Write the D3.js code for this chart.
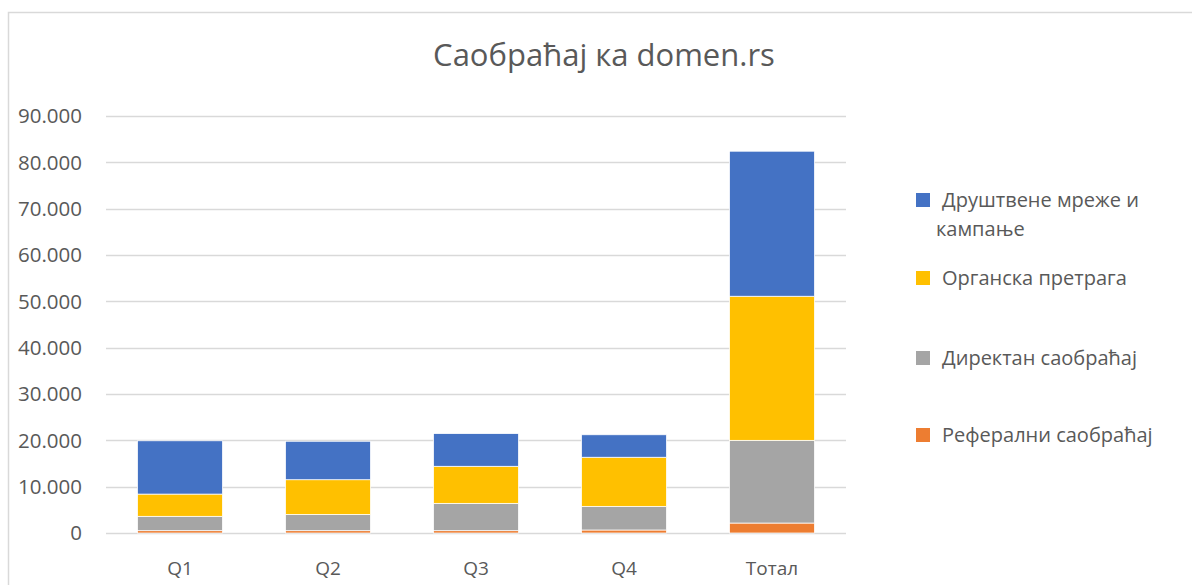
<!DOCTYPE html>
<html>
<head>
<meta charset="utf-8">
<script src="https://cdn.jsdelivr.net/npm/d3@7"></script>
<style>
  body { margin: 0; background: #fff; }
  text { font-family: "Open Sans", "Noto Sans", sans-serif; fill: #595959; }
</style>
</head>
<body>
<script>
// data
const categories = ['Q1', 'Q2', 'Q3', 'Q4', 'Тотал'];
const seriesNames = ['Реферални саобраћај', 'Директан саобраћај', 'Органска претрага', 'Друштвене мреже и кампање'];
const referral = [500, 500, 500, 650, 2150];
const direct = [3100, 3500, 5900, 5100, 17850];
const organic = [4800, 7500, 8000, 10600, 31100];
const social = [11500, 8300, 7050, 4850, 31300];
const yTicks = [0, 10000, 20000, 30000, 40000, 50000, 60000, 70000, 80000, 90000];
const colors = ['#ED7D31', '#A5A5A5', '#FFC000', '#4472C4'];

const W = 1192, H = 585;
const plot = { left: 106, right: 846, top: 116, bottom: 533 };

const svg = d3.select('body').append('svg')
  .attr('width', W)
  .attr('height', H);

// chart frame
svg.append('rect')
  .attr('x', 8.5).attr('y', 12.5)
  .attr('width', W).attr('height', H)
  .attr('fill', 'none')
  .attr('stroke', '#D9D9D9')
  .attr('stroke-width', 1.5);

svg.append('text')
  .attr('x', 604).attr('y', 66)
  .attr('text-anchor', 'middle')
  .style('font-size', '31px')
  .text('Саобраћај ка domen.rs');

const x = d3.scaleBand()
  .domain(categories)
  .range([plot.left, plot.right])
  .paddingInner(0.426)
  .paddingOuter(0.213);

const y = d3.scaleLinear()
  .domain([0, 90000])
  .range([plot.bottom, plot.top]);

const fmt = d3.formatLocale({ decimal: ',', thousands: '.', grouping: [3], currency: ['', ''] }).format(',');

// gridlines + y labels
const yAxis = svg.append('g');
yAxis.selectAll('line')
  .data(yTicks)
  .enter().append('line')
  .attr('x1', plot.left).attr('x2', plot.right)
  .attr('y1', d => Math.round(y(d)) + 0.5)
  .attr('y2', d => Math.round(y(d)) + 0.5)
  .attr('stroke', '#D9D9D9')
  .attr('stroke-width', 1.5);
yAxis.selectAll('text')
  .data(yTicks)
  .enter().append('text')
  .attr('x', 82)
  .attr('y', d => y(d))
  .attr('dy', '0.35em')
  .attr('text-anchor', 'end')
  .style('font-size', '20.5px')
  .text(d => fmt(d));

// stacked bars
const table = categories.map((c, i) => ({
  cat: c, s0: referral[i], s1: direct[i], s2: organic[i], s3: social[i]
}));
const stack = d3.stack().keys(['s0', 's1', 's2', 's3'])(table);

svg.append('g').selectAll('g')
  .data(stack)
  .enter().append('g')
  .attr('fill', (d, i) => colors[i])
  .selectAll('rect')
  .data(d => d)
  .enter().append('rect')
  .attr('x', d => x(d.data.cat))
  .attr('width', x.bandwidth())
  .attr('y', d => y(d[1]))
  .attr('height', d => y(d[0]) - y(d[1]))
  .attr('stroke', '#fff')
  .attr('stroke-width', 0.75);

// x labels
svg.append('g').selectAll('text')
  .data(categories)
  .enter().append('text')
  .attr('x', d => x(d) + x.bandwidth() / 2)
  .attr('y', 575)
  .attr('text-anchor', 'middle')
  .style('font-size', '19px')
  .text(d => d);

// legend (top series first)
const legendRows = [
  { idx: 3, lines: ['Друштвене мреже и', 'кампање'], y: 200 },
  { idx: 2, lines: ['Органска претрага'], y: 278 },
  { idx: 1, lines: ['Директан саобраћај'], y: 358 },
  { idx: 0, lines: ['Реферални саобраћај'], y: 435 }
];
const legend = svg.append('g');
legendRows.forEach(r => {
  legend.append('rect')
    .attr('x', 916).attr('y', r.y - 7)
    .attr('width', 14).attr('height', 14)
    .attr('fill', colors[r.idx]);
  r.lines.forEach((t, j) => {
    legend.append('text')
      .attr('x', j === 0 ? 942 : 936)
      .attr('y', r.y + j * 29)
      .attr('dy', '0.35em')
      .style('font-size', '20px')
      .text(t);
  });
});
</script>
</body>
</html>
